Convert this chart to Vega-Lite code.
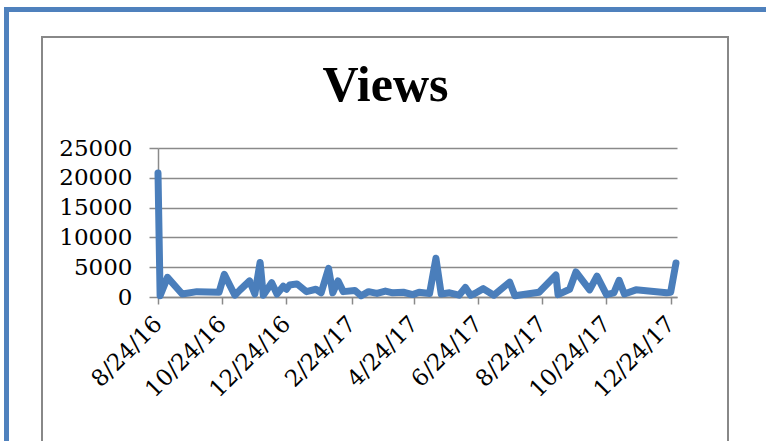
{
  "$schema": "https://vega.github.io/schema/vega-lite/v6.json",
  "width": 519,
  "height": 149,
  "autosize": {"type": "none"},
  "padding": {"left": 158, "top": 148, "right": 89, "bottom": 144},
  "background": "white",
  "title": {"text": "Views", "font": "Liberation Serif", "fontSize": 50, "fontWeight": "bold", "color": "black", "anchor": "middle", "dx": -32, "baseline": "alphabetic", "offset": -144},
  "config": {
    "view": {"stroke": null},
    "axis": {"gridColor": "#8a8a8a", "gridWidth": 1.5, "gridOpacity": 1, "domainColor": "#8a8a8a", "domainWidth": 1.5, "tickColor": "#8a8a8a", "tickWidth": 1.5, "labelColor": "black", "labelFont": "DejaVu Serif", "title": null}
  },
  "datasets": {
    "views": [
      {"date": "2016-08-24", "views": 20800},
      {"date": "2016-08-26", "views": 200},
      {"date": "2016-09-02", "views": 3300},
      {"date": "2016-09-16", "views": 500},
      {"date": "2016-09-30", "views": 900},
      {"date": "2016-10-21", "views": 800},
      {"date": "2016-10-26", "views": 3800},
      {"date": "2016-11-05", "views": 300},
      {"date": "2016-11-10", "views": 1200},
      {"date": "2016-11-19", "views": 2700},
      {"date": "2016-11-24", "views": 500},
      {"date": "2016-11-29", "views": 5800},
      {"date": "2016-12-02", "views": 300},
      {"date": "2016-12-10", "views": 2400},
      {"date": "2016-12-15", "views": 500},
      {"date": "2016-12-21", "views": 1800},
      {"date": "2016-12-24", "views": 1300},
      {"date": "2016-12-27", "views": 2000},
      {"date": "2017-01-03", "views": 2200},
      {"date": "2017-01-12", "views": 900},
      {"date": "2017-01-21", "views": 1300},
      {"date": "2017-01-26", "views": 700},
      {"date": "2017-02-02", "views": 4800},
      {"date": "2017-02-06", "views": 700},
      {"date": "2017-02-11", "views": 2700},
      {"date": "2017-02-16", "views": 900},
      {"date": "2017-02-27", "views": 1100},
      {"date": "2017-03-05", "views": 200},
      {"date": "2017-03-12", "views": 900},
      {"date": "2017-03-20", "views": 600},
      {"date": "2017-03-28", "views": 1000},
      {"date": "2017-04-04", "views": 700},
      {"date": "2017-04-14", "views": 800},
      {"date": "2017-04-23", "views": 400},
      {"date": "2017-04-29", "views": 800},
      {"date": "2017-05-09", "views": 600},
      {"date": "2017-05-15", "views": 6500},
      {"date": "2017-05-20", "views": 500},
      {"date": "2017-05-28", "views": 700},
      {"date": "2017-06-06", "views": 300},
      {"date": "2017-06-12", "views": 1600},
      {"date": "2017-06-17", "views": 300},
      {"date": "2017-06-21", "views": 600},
      {"date": "2017-06-29", "views": 1400},
      {"date": "2017-07-09", "views": 300},
      {"date": "2017-07-24", "views": 2500},
      {"date": "2017-07-29", "views": 200},
      {"date": "2017-08-21", "views": 800},
      {"date": "2017-09-06", "views": 3700},
      {"date": "2017-09-08", "views": 400},
      {"date": "2017-09-19", "views": 1300},
      {"date": "2017-09-25", "views": 4200},
      {"date": "2017-10-08", "views": 1200},
      {"date": "2017-10-15", "views": 3500},
      {"date": "2017-10-24", "views": 400},
      {"date": "2017-10-31", "views": 700},
      {"date": "2017-11-05", "views": 2800},
      {"date": "2017-11-10", "views": 500},
      {"date": "2017-11-21", "views": 1200},
      {"date": "2017-12-20", "views": 700},
      {"date": "2017-12-24", "views": 800},
      {"date": "2017-12-29", "views": 5700}
    ]
  },
  "layer": [
    {
      "data": {"values": [{}]},
      "mark": {"type": "rect", "fill": null, "stroke": "#888888", "strokeWidth": 2, "clip": false},
      "encoding": {"x": {"value": -116}, "x2": {"value": 570}, "y": {"value": -111}, "y2": {"value": 310}}
    },
    {
      "data": {"values": [{}]},
      "mark": {"type": "rect", "fill": "#4F81BD", "clip": false},
      "encoding": {"x": {"value": -154}, "x2": {"value": -149}, "y": {"value": -141}, "y2": {"value": 300}}
    },
    {
      "data": {"values": [{}]},
      "mark": {"type": "rect", "fill": "#4F81BD", "clip": false},
      "encoding": {"x": {"value": -154}, "x2": {"value": 620}, "y": {"value": -141}, "y2": {"value": -136}}
    },
    {
      "data": {"name": "views"},
      "mark": {"type": "line", "color": "#4A7EBB", "strokeWidth": 7, "strokeCap": "round", "strokeJoin": "round"},
      "encoding": {
        "x": {
          "field": "date", "type": "temporal",
          "scale": {"type": "utc", "domain": [{"year": 2016, "month": 8, "date": 24, "utc": true}, {"year": 2017, "month": 12, "date": 30, "utc": true}]},
          "axis": {
            "values": [
              {"year": 2016, "month": 8, "date": 24, "utc": true},
              {"year": 2016, "month": 10, "date": 24, "utc": true},
              {"year": 2016, "month": 12, "date": 24, "utc": true},
              {"year": 2017, "month": 2, "date": 24, "utc": true},
              {"year": 2017, "month": 4, "date": 24, "utc": true},
              {"year": 2017, "month": 6, "date": 24, "utc": true},
              {"year": 2017, "month": 8, "date": 24, "utc": true},
              {"year": 2017, "month": 10, "date": 24, "utc": true},
              {"year": 2017, "month": 12, "date": 24, "utc": true}
            ],
            "format": "%-m/%-d/%y", "grid": false, "tickSize": 7, "labelAngle": -45, "labelAlign": "right", "labelBaseline": "middle", "labelPadding": 16, "labelFontSize": 23, "labelOverlap": false, "labelFlush": false
          }
        },
        "y": {
          "field": "views", "type": "quantitative",
          "scale": {"domain": [0, 25000], "nice": false},
          "axis": {"values": [0, 5000, 10000, 15000, 20000, 25000], "format": "d", "tickSize": 9, "labelPadding": 17, "labelFontSize": 23, "grid": true}
        }
      }
    }
  ]
}
